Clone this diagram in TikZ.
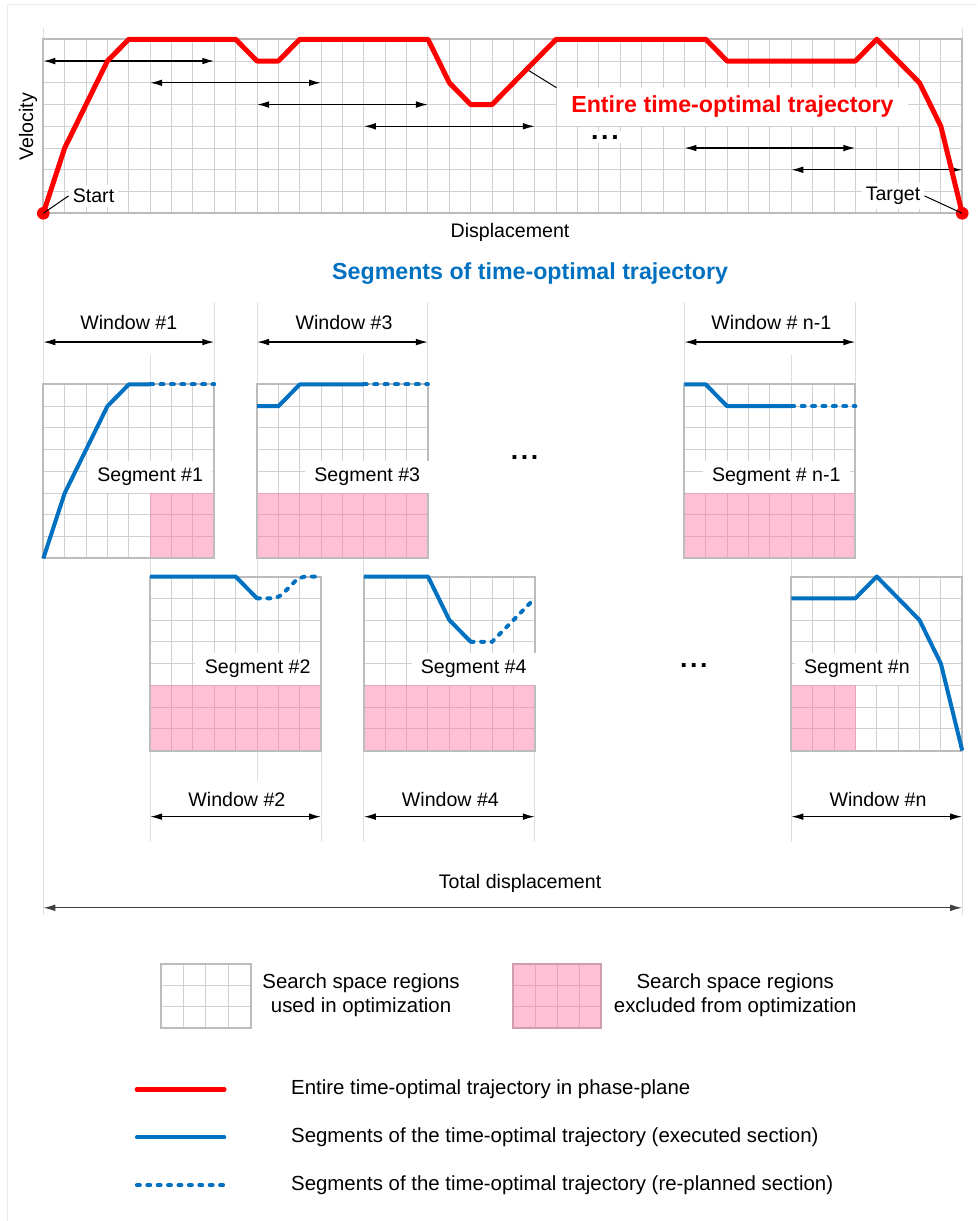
\documentclass[tikz,border=0pt]{standalone}
\usepackage{fontspec}
\setmainfont{Liberation Sans}
\usetikzlibrary{arrows.meta}

\definecolor{trajred}{RGB}{255,0,0}
\definecolor{trajblue}{RGB}{0,112,192}
\definecolor{excludedpink}{RGB}{255,192,214}
\definecolor{pinkline}{RGB}{228,165,188}
\definecolor{gridgray}{RGB}{208,208,208}
\definecolor{framegray}{RGB}{188,188,188}
\definecolor{guidegray}{RGB}{222,222,222}

\begin{document}
\begin{tikzpicture}[x=16.0275pt,y=16.3125pt,font=\fontsize{14.7}{17}\selectfont]
    \tikzstyle{gridline}=[draw=gridgray,line width=0.75pt,step=1]
    \tikzstyle{pinkgrid}=[draw=pinkline,line width=0.75pt,step=1]
    \tikzstyle{boxframe}=[draw=framegray,line width=1.5pt]
    \tikzstyle{guide}=[draw=guidegray,line width=0.75pt]
    \tikzstyle{dimarrow}=[{Latex[length=9pt,width=5pt]}-{Latex[length=9pt,width=5pt]},line width=1pt]
    \tikzstyle{entire}=[draw=trajred,line width=3.75pt,line join=round]
    \tikzstyle{executed}=[draw=trajblue,line width=3pt,line join=round]
    \tikzstyle{replanned}=[draw=trajblue,line width=3pt,line cap=round,dash pattern=on 2.2pt off 5.6pt]
    \tikzstyle{seglabel}=[fill=white,inner xsep=7pt,minimum height=24.5pt]
    \tikzstyle{whitebg}=[fill=white,inner sep=3pt]
    \tikzstyle{titlefont}=[font=\fontsize{17.4}{20}\selectfont\bfseries]
    \tikzstyle{keyfont}=[font=\fontsize{15.3}{18}\selectfont]
    \tikzstyle{dots}=[whitebg,inner xsep=6pt,font=\fontsize{20}{20}\selectfont\bfseries]
    \useasboundingbox (-2.026,-46.33) rectangle (43.692,9.807);
    \draw [draw=black!8,line width=0.75pt] (-1.685,-46.33) -- (-1.685,9.577) -- (43.692,9.577);
    \draw [guide] (0,8.52) -- (0,-32.26);
    \draw [guide] (43,8.52) -- (43,-32.26);
    \draw [guide] (5,-6.5) -- (5,-28.9);
    \draw [guide] (8,-4.1) -- (8,-7.87);
    \draw [guide] (10,-4.1) -- (10,-26.1);
    \draw [guide] (13,-24.7) -- (13,-28.9);
    \draw [guide] (15,-6.5) -- (15,-28.9);
    \draw [guide] (18,-4.1) -- (18,-7.87);
    \draw [guide] (23,-24.7) -- (23,-28.9);
    \draw [guide] (30,-4.1) -- (30,-7.87);
    \draw [guide] (35,-6.5) -- (35,-28.9);
    \draw [guide] (38,-4.1) -- (38,-7.87);
    \draw [gridline] (0,0) grid (43,8);
    \draw [boxframe] (0,0) rectangle (43,8);
    \node (velocity) at (-0.716,3.97) [rotate=90] {Velocity};
    \node (displacement) at (21.84,-0.86) {Displacement};
    \node (startlbl) at (2.35,0.8) [whitebg] {Start};
    \node (targetlbl) at (39.76,0.8) [whitebg] {Target};
    \node (entirelbl) at (32.25,4.9) [whitebg,titlefont,inner xsep=11pt,inner ysep=6pt,text=trajred] {Entire time-optimal trajectory};
    \node (dotstop) at (26.28,3.5) [dots] {.\kern2pt.\kern2pt.};
    \coordinate (top1a) at (0,7);
    \coordinate (top1b) at (8,7);
    \coordinate (top2a) at (5,6);
    \coordinate (top2b) at (13,6);
    \coordinate (top3a) at (10,5);
    \coordinate (top3b) at (18,5);
    \coordinate (top4a) at (15,4);
    \coordinate (top4b) at (23,4);
    \coordinate (top5a) at (30,3);
    \coordinate (top5b) at (38,3);
    \coordinate (top6a) at (35,2);
    \coordinate (top6b) at (43,2);
    \draw [dimarrow] (top1a) -- (top1b);
    \draw [dimarrow] (top2a) -- (top2b);
    \draw [dimarrow] (top3a) -- (top3b);
    \draw [dimarrow] (top4a) -- (top4b);
    \draw [dimarrow] (top5a) -- (top5b);
    \draw [dimarrow] (top6a) -- (top6b);
    \coordinate (entirept) at (22.62,6.62);
    \draw [line width=0.75pt] (entirept) -- (entirelbl.north west);
    \draw [entire] (0,0) -- (1,3) -- (3,7) -- (4,8) -- (9,8) -- (10,7) -- (11,7) -- (12,8) -- (18,8) -- (19,6) -- (20,5) -- (21,5) -- (24,8) -- (31,8) -- (32,7) -- (38,7) -- (39,8) -- (41,6) -- (42,4) -- (43,0);
    \node (start) at (0,0) [circle,fill=trajred,inner sep=0pt,minimum size=9.5pt] {};
    \node (target) at (43,0) [circle,fill=trajred,inner sep=0pt,minimum size=9.5pt] {};
    \draw [line width=0.75pt] (start.center) -- (startlbl.west);
    \draw [line width=0.75pt] (targetlbl.east) -- (target.center);
    \node (segtitle) at (22.78,-2.79) [titlefont,text=trajblue] {Segments of time-optimal trajectory};
    \node (win1) at (4,-5.04) {Window \#1};
    \node (win3) at (14.07,-5.04) {Window \#3};
    \node (winn1) at (34.07,-5.04) {Window \# n-1};
    \coordinate (win1l) at (0,-5.92);
    \coordinate (win1r) at (8,-5.92);
    \coordinate (win3l) at (10,-5.92);
    \coordinate (win3r) at (18,-5.92);
    \coordinate (winn1l) at (30,-5.92);
    \coordinate (winn1r) at (38,-5.92);
    \draw [dimarrow] (win1l) -- (win1r);
    \draw [dimarrow] (win3l) -- (win3r);
    \draw [dimarrow] (winn1l) -- (winn1r);
    \begin{scope}[shift={(0,-15.87)}]
        \draw [gridline] (0,0) grid (8,8);
        \fill [excludedpink] (5,0) rectangle (8,3);
        \draw [pinkgrid] (5,0) grid (8,3);
        \draw [boxframe] (0,0) rectangle (8,8);
        \node (seg1) at (5,3.75) [seglabel] {Segment \#1};
        \draw [executed] (0,0) -- (1,3) -- (3,7) -- (4,8) -- (5,8);
        \draw [replanned] (5,8) -- (8,8);
    \end{scope}
    \begin{scope}[shift={(10,-15.87)}]
        \draw [gridline] (0,0) grid (8,8);
        \fill [excludedpink] (0,0) rectangle (8,3);
        \draw [pinkgrid] (0,0) grid (8,3);
        \draw [boxframe] (0,0) rectangle (8,8);
        \node (seg3) at (5.16,3.75) [seglabel] {Segment \#3};
        \draw [executed] (0,7) -- (1,7) -- (2,8) -- (5,8);
        \draw [replanned] (5,8) -- (8,8);
    \end{scope}
    \begin{scope}[shift={(30,-15.87)}]
        \draw [gridline] (0,0) grid (8,8);
        \fill [excludedpink] (0,0) rectangle (8,3);
        \draw [pinkgrid] (0,0) grid (8,3);
        \draw [boxframe] (0,0) rectangle (8,8);
        \node (segn1) at (4.3,3.75) [seglabel] {Segment \# n-1};
        \draw [executed] (0,8) -- (1,8) -- (2,7) -- (5,7);
        \draw [replanned] (5,7) -- (8,7);
    \end{scope}
    \node (dotsrow1) at (22.52,-11.24) [dots] {.\kern2pt.\kern2pt.};
    \begin{scope}[shift={(5,-24.7)}]
        \draw [gridline] (0,0) grid (8,8);
        \fill [excludedpink] (0,0) rectangle (8,3);
        \draw [pinkgrid] (0,0) grid (8,3);
        \draw [boxframe] (0,0) rectangle (8,8);
        \node (seg2) at (5.03,3.75) [seglabel] {Segment \#2};
        \draw [executed] (0,8) -- (4,8) -- (5,7);
        \draw [replanned,rounded corners=5pt] (5,7) -- (6,7) -- (7,8) -- (8,8);
    \end{scope}
    \begin{scope}[shift={(15,-24.7)}]
        \draw [gridline] (0,0) grid (8,8);
        \fill [excludedpink] (0,0) rectangle (8,3);
        \draw [pinkgrid] (0,0) grid (8,3);
        \draw [boxframe] (0,0) rectangle (8,8);
        \node (seg4) at (5.14,3.75) [seglabel] {Segment \#4};
        \draw [executed] (0,8) -- (3,8) -- (4,6) -- (5,5);
        \draw [replanned] (5,5) -- (6,5) -- (8,7);
    \end{scope}
    \begin{scope}[shift={(35,-24.7)}]
        \draw [gridline] (0,0) grid (8,8);
        \fill [excludedpink] (0,0) rectangle (3,3);
        \draw [pinkgrid] (0,0) grid (3,3);
        \draw [boxframe] (0,0) rectangle (8,8);
        \node (segn) at (3.07,3.75) [seglabel] {Segment \#n};
        \draw [executed] (0,7) -- (3,7) -- (4,8) -- (6,6) -- (7,4) -- (8,0);
    \end{scope}
    \node (dotsrow2) at (30.44,-20.77) [dots] {.\kern2pt.\kern2pt.};
    \node (win2) at (9.06,-26.93) {Window \#2};
    \node (win4) at (19.05,-26.93) {Window \#4};
    \node (winn) at (39.06,-26.93) {Window \#n};
    \coordinate (win2l) at (5,-27.74);
    \coordinate (win2r) at (13,-27.74);
    \coordinate (win4l) at (15,-27.74);
    \coordinate (win4r) at (23,-27.74);
    \coordinate (winnl) at (35,-27.74);
    \coordinate (winnr) at (43,-27.74);
    \draw [dimarrow] (win2l) -- (win2r);
    \draw [dimarrow] (win4l) -- (win4r);
    \draw [dimarrow] (winnl) -- (winnr);
    \node (total) at (22.31,-30.8) {Total displacement};
    \coordinate (totall) at (0,-31.93);
    \coordinate (totalr) at (43,-31.93);
    \draw [dimarrow,draw=black!75,fill=black!75] (totall) -- (totalr);
    \begin{scope}[shift={(5.52,-37.47)}]
        \draw [gridline,xstep=1.045,ystep=0.987] (0,0) grid (4.18,2.96);
        \draw [boxframe] (0,0) rectangle (4.18,2.96);
    \end{scope}
    \begin{scope}[shift={(21.99,-37.47)}]
        \fill [excludedpink] (0,0) rectangle (4.13,2.96);
        \draw [pinkgrid,xstep=1.0325,ystep=0.987] (0,0) grid (4.13,2.96);
        \draw [draw=pinkline!80!gray,line width=1.5pt] (0,0) rectangle (4.13,2.96);
    \end{scope}
    \node (usedtxt) at (14.87,-35.95) [keyfont,align=center] {Search space regions\\used in optimization};
    \node (excltxt) at (32.38,-35.95) [keyfont,align=center] {Search space regions\\excluded from optimization};
    \coordinate (keyreda) at (4.38,-40.28);
    \coordinate (keyredb) at (8.47,-40.28);
    \coordinate (keybluea) at (4.38,-42.49);
    \coordinate (keyblueb) at (8.47,-42.49);
    \coordinate (keydasha) at (4.38,-44.68);
    \coordinate (keydashb) at (8.47,-44.68);
    \draw [entire,line width=3.4pt,line cap=round] (keyreda) -- (keyredb);
    \draw [executed,line cap=round] (keybluea) -- (keyblueb);
    \draw [replanned] (keydasha) -- (keydashb);
    \node (keyredtxt) at (11.38,-40.28) [keyfont,anchor=west] {Entire time-optimal trajectory in phase-plane};
    \node (keybluetxt) at (11.38,-42.49) [keyfont,anchor=west] {Segments of the time-optimal trajectory (executed section)};
    \node (keydashtxt) at (11.38,-44.68) [keyfont,anchor=west] {Segments of the time-optimal trajectory (re-planned section)};
\end{tikzpicture}
\end{document}
